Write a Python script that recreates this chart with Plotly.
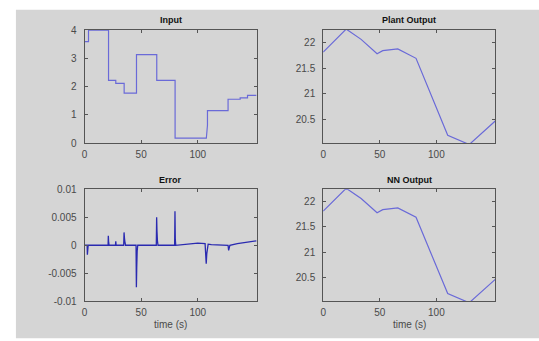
import plotly.graph_objects as go

# ---- data ----
input_t = [0, 3.5, 3.5, 21.2, 21.2, 27.6, 27.6, 35, 35, 45.9, 45.9, 63.8, 63.8, 80, 80,
           107.6, 108.6, 108.6, 126.8, 126.8, 137.5, 137.5, 144, 144, 152]
input_v = [3.59, 3.59, 4.0, 4.0, 2.22, 2.22, 2.11, 2.11, 1.77, 1.77, 3.13, 3.13, 2.22, 2.22, 0.17,
           0.17, 0.63, 1.15, 1.15, 1.55, 1.55, 1.6, 1.6, 1.69, 1.69]

plant_t = [0, 20.3, 33.5, 47.6, 52.6, 65.9, 82, 110, 129, 152]
plant_v = [21.81, 22.26, 22.06, 21.78, 21.84, 21.875, 21.69, 20.19, 20.01, 20.47]

nn_t = [0, 20.3, 33.5, 47.6, 52.6, 65.9, 82, 110, 129, 152]
nn_v = [21.81, 22.26, 22.06, 21.78, 21.84, 21.875, 21.69, 20.19, 20.01, 20.47]

error_t = [0, 2.3, 2.5, 2.8, 3.2, 20.8, 21.0, 21.3, 21.7, 27.3, 27.6, 27.9,
           34.6, 34.9, 35.3, 35.8, 36.3, 45.5, 45.8, 46.1, 46.5, 47.0,
           63.4, 63.7, 64.0, 64.4, 64.9, 79.6, 79.9, 80.2, 80.6,
           90, 100, 106.5, 107.0, 107.5, 108.0, 108.6, 109.2, 112, 120,
           126.8, 127.3, 127.8, 128.4, 135, 152]
error_v = [0, 0, -0.0017, -0.0006, 0, 0, 0.0017, 0.0005, 0, 0, 0.0007, 0,
           0, 0.0023, 0.0012, 0.0004, 0, 0, -0.0075, -0.004, -0.001, 0,
           0, 0.005, 0.0025, 0.0008, 0, 0, 0.0061, 0.001, 0,
           0.0002, 0.0004, 0.0003, -0.0012, -0.0033, -0.0015, -0.0005, 0.0002, 0.0001, 0,
           0, -0.0009, -0.0005, 0, 0.0003, 0.0008]

x_ticks = [0, 50, 100]
input_ticks = [0, 1, 2, 3, 4]
out_ticks = [20.5, 21, 21.5, 22]
out_labels = ["20.5", "21", "21.5", "22"]
err_ticks = [-0.01, -0.005, 0, 0.005, 0.01]
err_labels = ["-0.01", "-0.005", "0", "0.005", "0.01"]
titles = ["Input", "Plant Output", "Error", "NN Output"]

# ---- figure ----
W, H = 539, 341
line_col = "#6a6ad8"
fig = go.Figure()

fig.add_trace(go.Scatter(x=input_t, y=input_v, mode="lines",
                         line=dict(color=line_col, width=1.2), xaxis="x", yaxis="y"))
fig.add_trace(go.Scatter(x=plant_t, y=plant_v, mode="lines",
                         line=dict(color=line_col, width=1.2), xaxis="x2", yaxis="y2"))
fig.add_trace(go.Scatter(x=error_t, y=error_v, mode="lines",
                         line=dict(color="#2a2ab0", width=1.3), xaxis="x3", yaxis="y3"))
fig.add_trace(go.Scatter(x=nn_t, y=nn_v, mode="lines",
                         line=dict(color=line_col, width=1.2), xaxis="x4", yaxis="y4"))


def px_x(a, b):
    return [a / W, b / W]


def px_y(top, bottom):
    return [(H - bottom) / H, (H - top) / H]


tickfont = dict(family="Liberation Sans, Arial", size=10, color="#4a4a4a")
common_ax = dict(showline=True, linecolor="#555555", linewidth=1, mirror="ticks",
                 ticks="inside", ticklen=3, tickcolor="#555555", showgrid=False,
                 zeroline=False, tickfont=tickfont)

dom_x_left = px_x(82, 255)
dom_x_right = px_x(322, 495)
dom_y_top = px_y(25, 142)
dom_y_bot = px_y(190, 306)

fig.update_layout(
    width=W, height=H,
    margin=dict(l=0, r=0, t=0, b=0),
    paper_bgcolor="white",
    plot_bgcolor="white",
    showlegend=False,
    xaxis=dict(domain=dom_x_left, range=[0, 152], tickvals=x_ticks, anchor="y",
               ticklabelstandoff=2, **common_ax),
    yaxis=dict(domain=dom_y_top, range=[0, 4], tickvals=input_ticks, anchor="x",
               ticklabelstandoff=5, **common_ax),
    xaxis2=dict(domain=dom_x_right, range=[0, 152], tickvals=x_ticks, anchor="y2",
                ticklabelstandoff=2, **common_ax),
    yaxis2=dict(domain=dom_y_top, range=[20.04, 22.24], tickvals=out_ticks, ticktext=out_labels,
                anchor="x2", ticklabelstandoff=5, **common_ax),
    xaxis3=dict(domain=dom_x_left, range=[0, 152], tickvals=x_ticks, anchor="y3",
                ticklabelstandoff=2, **common_ax),
    yaxis3=dict(domain=dom_y_bot, range=[-0.01, 0.01], tickvals=err_ticks, ticktext=err_labels,
                anchor="x3", ticklabelstandoff=5, **common_ax),
    xaxis4=dict(domain=dom_x_right, range=[0, 152], tickvals=x_ticks, anchor="y4",
                ticklabelstandoff=2, **common_ax),
    yaxis4=dict(domain=dom_y_bot, range=[20.04, 22.24], tickvals=out_ticks, ticktext=out_labels,
                anchor="x4", ticklabelstandoff=5, **common_ax),
)

# gray figure background with white strips at top and left
fig.add_shape(type="rect", xref="paper", yref="paper", x0=13 / W, x1=1.01, y0=-0.01, y1=(H - 4) / H,
              fillcolor="#d5d5d5", line=dict(width=0), layer="below")

title_font = dict(family="Liberation Sans, Arial", size=9, color="#111111")
centers = [((82 + 255) / 2, 15), ((322 + 495) / 2, 15), ((82 + 255) / 2, 180), ((322 + 495) / 2, 180)]
for t, (cx, cy) in zip(titles, centers):
    fig.add_annotation(text="<b>" + t + "</b>", xref="paper", yref="paper",
                       x=cx / W, y=(H - cy) / H, showarrow=False, font=title_font,
                       xanchor="center", yanchor="middle")

lab_font = dict(family="Liberation Sans, Arial", size=10, color="#4a4a4a")
for cx in [(82 + 255) / 2, (322 + 495) / 2]:
    fig.add_annotation(text="time (s)", xref="paper", yref="paper", x=cx / W, y=(H - 330) / H,
                       showarrow=False, font=lab_font, xanchor="center", yanchor="middle")

fig.write_html("out.html")
